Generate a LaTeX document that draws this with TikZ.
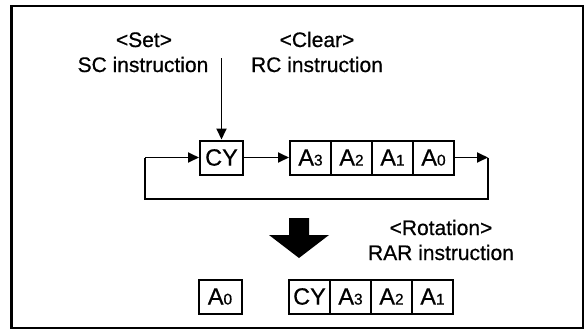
\documentclass[tikz,border=0pt]{standalone}
\usepackage{fontspec}
\setmainfont{Liberation Sans}[FakeBold=0.6]
\usetikzlibrary{arrows.meta}
\newcommand\subdig[1]{{\fontsize{15.5}{15.5}\selectfont #1}}
\begin{document}
\begin{tikzpicture}[x=1pt,y=-1pt,
  lbl/.style={font=\fontsize{21}{24}\selectfont, inner sep=0, anchor=base},
  cell/.style={draw, line width=2pt, minimum height=34pt, minimum width=41pt, inner sep=0, font=\fontsize{23.5}{23.5}\selectfont},
  cybox/.style={cell, minimum width=43pt},
  conn/.style={line width=1.8pt},
  arr/.style={conn, -{Triangle[length=11pt,width=10pt]}},
]
\useasboundingbox (0,0) rectangle (584,330);
\draw[line width=2pt] (11,6) rectangle (583,328);
\draw[line width=3pt] (11.5,6) -- (11.5,328);

% labels
\node[lbl] (set) at (144,47) {<Set>};
\node[lbl] (sc) at (143,72) {SC instruction};
\node[lbl] (clear) at (317,47) {<Clear>};
\node[lbl] (rc) at (317,72) {RC instruction};
\node[lbl] (rot) at (441,235) {<Rotation>};
\node[lbl] (rar) at (441,260) {RAR instruction};

% upper row
\node[cybox] (cy) at (221.5,157.5) {CY};
\node[cell] (a3) at (310.5,157.5) {A\subdig{3}};
\node[cell] (a2) at (351.5,157.5) {A\subdig{2}};
\node[cell] (a1) at (392.5,157.5) {A\subdig{1}};
\node[cell] (a0) at (433.5,157.5) {A\subdig{0}};

% lower row
\node[cybox] (b0) at (220,296.5) {A\subdig{0}};
\node[cell] (bcy) at (309.5,296.5) {CY};
\node[cell] (b3) at (350.5,296.5) {A\subdig{3}};
\node[cell] (b2) at (391.5,296.5) {A\subdig{2}};
\node[cell] (b1) at (432.5,296.5) {A\subdig{1}};

% connectors
\coordinate (top) at (221.5,58);
\coordinate (rtc) at (488,157.5);
\coordinate (rbc) at (488,199);
\coordinate (lbc) at (145,199);
\coordinate (ltc) at (145,157.5);
\draw[arr] (top) -- (cy.north);
\draw[arr] (cy.east) -- (a3.west);
\draw[arr] (a0.east) -- (rtc);
\draw[conn] (rtc) -- (rbc) -- (lbc) -- (ltc);
\draw[arr] (ltc) -- (cy.west);

% big down arrow
\fill (289,218) -- (309,218) -- (309,235) -- (329,235) -- (299,258) -- (269,235) -- (289,235) -- cycle;
\end{tikzpicture}
\end{document}
